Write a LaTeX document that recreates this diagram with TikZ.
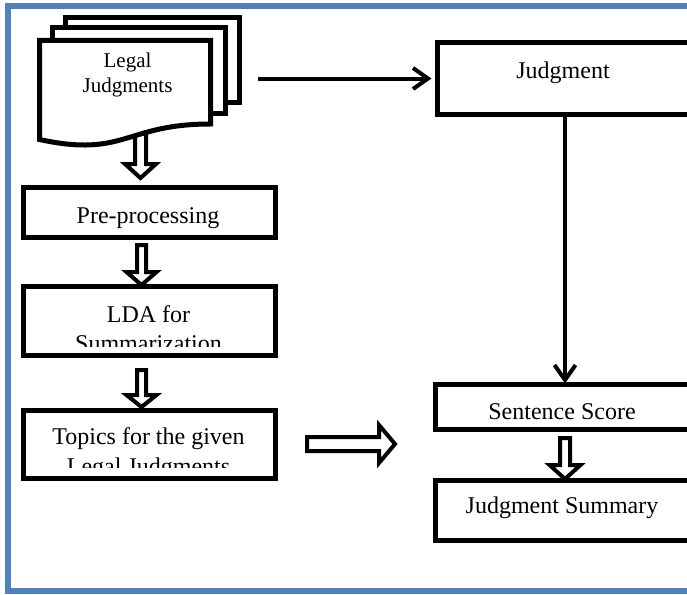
\documentclass[tikz,border=0pt]{standalone}
\usepackage{fontspec}
\setmainfont{Liberation Serif}
\usetikzlibrary{arrows.meta}
\definecolor{frameblue}{HTML}{4F81BD}
\tikzset{
  stepbox/.style={draw, line width=5pt, fill=white, rectangle, inner sep=0pt, outer sep=0pt},
  docpage/.style={draw, line width=5pt, fill=white, line join=miter},
  blockarrow/.style={draw, line width=4pt, fill=white, line join=miter},
  conn/.style={line width=4pt, -{Straight Barb[length=15pt,width=21pt]}},
  boxtext/.style={font=\fontsize{24}{29}\selectfont, anchor=base, inner sep=0pt},
  doctext/.style={font=\fontsize{21}{25}\selectfont, anchor=base, inner sep=0pt},
}
% hollow block arrow pointing down: x, top, head start, tip, shaft half width, head half width
\newcommand\downblock[6]{%
  \draw[blockarrow] ({#1-#5},#2) -- ({#1+#5},#2) -- ({#1+#5},#3) -- ({#1+#6},#3)
    -- (#1,#4) -- ({#1-#6},#3) -- ({#1-#5},#3) -- cycle;}
\begin{document}
\begin{tikzpicture}[x=1pt,y=-1pt]
\useasboundingbox (0,0) rectangle (687,594);
\clip (0,0) rectangle (687,594);

% page frame
\draw[frameblue, line width=6pt] (700,6) -- (8,6) -- (8,591) -- (700,591);

% stack of documents
\downblock{140.5}{128}{164}{178}{5.5}{15.5}
\path[docpage] (65.5,17.5) rectangle (239.5,102.5);
\path[docpage] (52.5,27.5) rectangle (225.5,113.5);
\path[docpage] (39.5,40.5) -- (210.5,40.5) -- (210.5,124)
  .. controls (125,124) and (125,158) .. (39.5,139.5) -- cycle;
\node[doctext] (docs1) at (127.5,67) {Legal};
\node[doctext] (docs2) at (127.5,92) {Judgments};

% left column
\node[stepbox, minimum width=252pt, minimum height=50pt] (pre) at (149.5,212.5) {};
\node[boxtext] (tpre) at (148,223) {Pre-processing};

\node[stepbox, minimum width=252pt, minimum height=69pt] (lda) at (149.5,321) {};
\begin{scope}
  \clip (26,290) rectangle (272,346);
  \node[boxtext] (tlda1) at (148.5,322) {LDA for};
  \node[boxtext] (tlda2) at (148.5,351) {Summarization};
\end{scope}

\node[stepbox, minimum width=252pt, minimum height=68pt] (topics) at (149.5,444.5) {};
\begin{scope}
  \clip (26,414) rectangle (272,467);
  \node[boxtext] (ttop1) at (148.5,444) {Topics for the given};
  \node[boxtext] (ttop2) at (148.5,474) {Legal Judgments};
\end{scope}

\downblock{141.5}{245}{272}{285}{4.5}{15}
\downblock{141.5}{370}{395}{407}{4.5}{15}

% right column
\node[stepbox, minimum width=282.5pt, minimum height=72pt] (judg) at (578.75,78.5) {};
\node[boxtext] (tjudg) at (563,78) {Judgment};

\node[stepbox, minimum width=284.5pt, minimum height=45pt] (sent) at (577.75,407) {};
\node[boxtext] (tsent) at (562,419) {Sentence Score};

\node[stepbox, minimum width=284.5pt, minimum height=60pt] (summ) at (577.75,510.5) {};
\node[boxtext] (tsumm) at (562,513) {Judgment Summary};

\downblock{565}{438}{465}{479}{5}{15.5}

% topics feed the scoring
\draw[blockarrow] (307,437) -- (379,437) -- (379,425) -- (395,444)
  -- (379,463) -- (379,451) -- (307,451) -- cycle;

% connectors
\coordinate (jstart) at (258,78.5);
\draw[conn, shorten >=6pt] (jstart) -- (judg.west);
\draw[conn, shorten >=1pt] ([xshift=127.5pt]judg.south west) -- ([xshift=129.5pt]sent.north west);
\end{tikzpicture}
\end{document}
